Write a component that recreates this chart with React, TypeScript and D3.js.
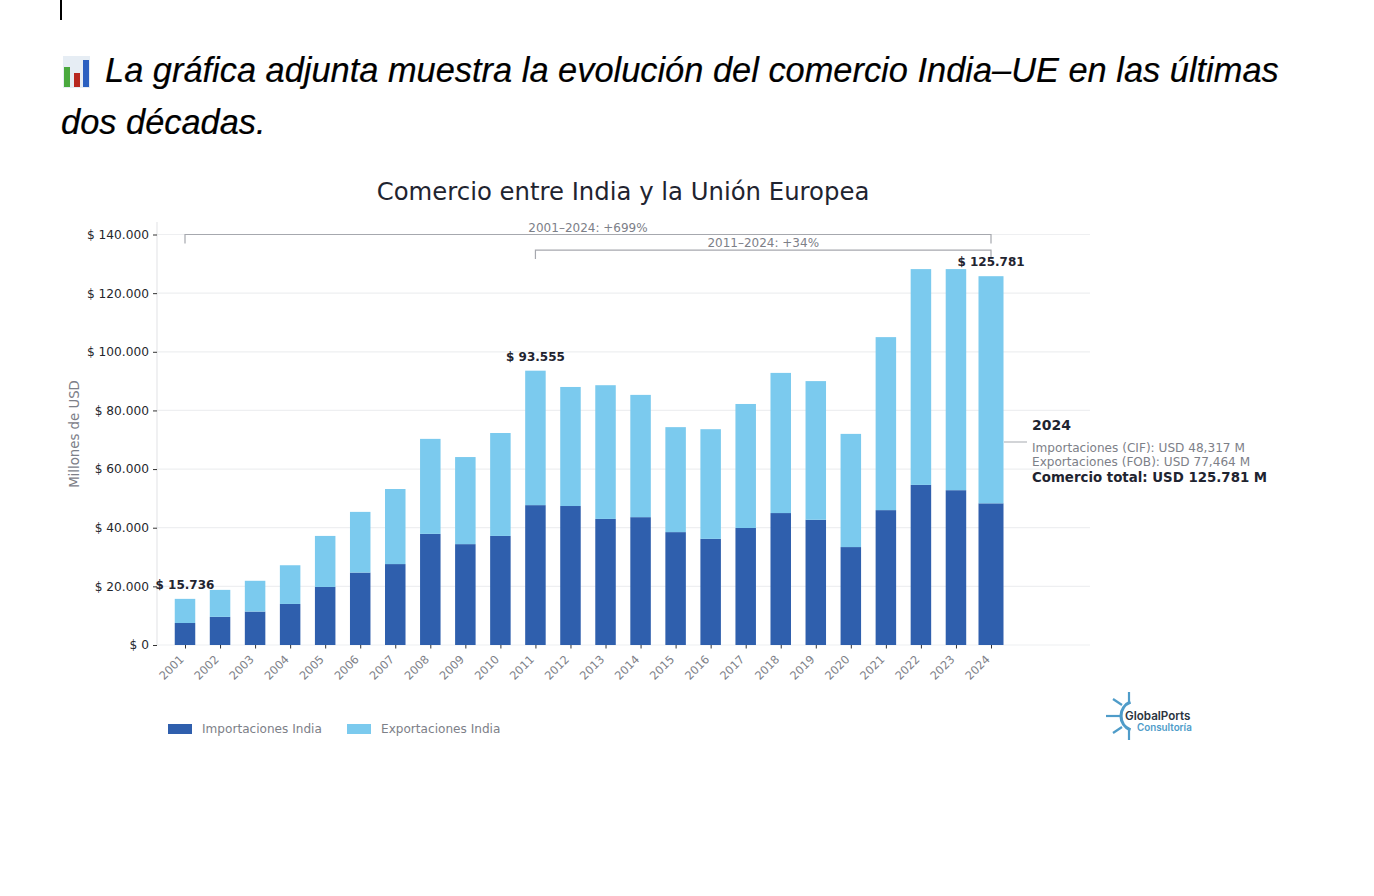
import React, { useEffect, useRef } from 'react';
import * as d3 from 'd3';

const years = ['2001', '2002', '2003', '2004', '2005', '2006', '2007', '2008', '2009', '2010', '2011', '2012', '2013', '2014', '2015', '2016', '2017', '2018', '2019', '2020', '2021', '2022', '2023', '2024'];
const imports = [7500, 9600, 11400, 14000, 19800, 24700, 27600, 37900, 34400, 37200, 47700, 47400, 43000, 43600, 38500, 36200, 39900, 45000, 42700, 33400, 46000, 54600, 52800, 48317];
const exportsIndia = [8236, 9200, 10500, 13200, 17400, 20700, 25600, 32400, 29700, 35100, 45855, 40600, 45600, 41700, 35800, 37400, 42300, 47800, 47300, 38600, 59000, 73600, 75400, 77464];
const yTicks = [0, 20000, 40000, 60000, 80000, 100000, 120000, 140000];
const tickLabels = ['$ 0', '$ 20.000', '$ 40.000', '$ 60.000', '$ 80.000', '$ 100.000', '$ 120.000', '$ 140.000'];
const callouts = [
  { year: '2001', total: 15736, label: '$ 15.736' },
  { year: '2011', total: 93555, label: '$ 93.555' },
  { year: '2024', total: 125781, label: '$ 125.781' },
];
const brackets = [
  { from: '2001', to: '2024', value: 140000, label: '2001–2024: +699%' },
  { from: '2011', to: '2024', value: 134700, label: '2011–2024: +34%' },
];
const legendItems = ['Importaciones India', 'Exportaciones India'];
const noteLines = ['Importaciones (CIF): USD 48,317 M', 'Exportaciones (FOB): USD 77,464 M'];

const DARK = '#2f5fad';
const LIGHT = '#7bcaee';
const INK = '#1f2430';
const GREY = '#7d8088';
const CHART_FONT = '"DejaVu Sans", sans-serif';

export default function App() {
  const svgRef = useRef<SVGSVGElement>(null);

  useEffect(() => {
    if (!svgRef.current) return;
    const svg = d3.select(svgRef.current);
    svg.selectAll('*').remove();

    // echelles
    const x = d3.scalePoint<string>().domain(years).range([185, 991]);
    const y = d3.scaleLinear().domain([0, 140000]).range([645, 234.5]);
    const barWidth = (year: string) => (year === '2024' ? 25 : 20.5);

    // en-tete
    svg.append('rect').attr('x', 60).attr('y', 0).attr('width', 2).attr('height', 20).attr('fill', '#000');
    const icon = svg.append('g');
    icon.append('rect').attr('x', 63).attr('y', 56).attr('width', 27).attr('height', 32).attr('fill', '#e6edf4');
    icon.append('rect').attr('x', 64).attr('y', 67).attr('width', 6).attr('height', 20).attr('fill', '#4aa93e');
    icon.append('rect').attr('x', 74).attr('y', 73).attr('width', 6).attr('height', 14).attr('fill', '#b8281f');
    icon.append('rect').attr('x', 83).attr('y', 60).attr('width', 6).attr('height', 27).attr('fill', '#2a5fc0');

    const heading = svg.append('g')
      .attr('font-family', '"Liberation Sans", sans-serif')
      .attr('font-style', 'italic')
      .attr('font-size', 34.4)
      .attr('fill', '#000')
      .attr('stroke', '#000')
      .attr('stroke-width', 0.2);
    heading.append('text').attr('x', 105).attr('y', 82)
      .text('La gráfica adjunta muestra la evolución del comercio India–UE en las últimas');
    heading.append('text').attr('x', 61).attr('y', 134).text('dos décadas.');

    svg.append('text').attr('x', 623).attr('y', 200).attr('text-anchor', 'middle')
      .attr('font-family', CHART_FONT).attr('font-size', 24.35).attr('fill', INK)
      .text('Comercio entre India y la Unión Europea');

    // grille
    const chart = svg.append('g').attr('font-family', CHART_FONT);
    chart.selectAll('line.grid').data(yTicks).join('line')
      .attr('class', 'grid')
      .attr('x1', 157).attr('x2', 1090)
      .attr('y1', d => y(d)).attr('y2', d => y(d))
      .attr('stroke', '#eeeff1').attr('stroke-width', 1.2);
    chart.append('line').attr('x1', 157).attr('x2', 157).attr('y1', 222).attr('y2', 645)
      .attr('stroke', '#e6e7ea').attr('stroke-width', 1.2);

    // barres empilees
    const rows = years.map((year, i) => ({ year, imp: imports[i], exp: exportsIndia[i] }));
    const series = d3.stack<{ year: string; imp: number; exp: number }>().keys(['imp', 'exp'])(rows);
    const colors = [DARK, LIGHT];
    series.forEach((layer, i) => {
      chart.append('g').selectAll('rect').data(layer).join('rect')
        .attr('x', d => x(d.data.year)! - barWidth(d.data.year) / 2)
        .attr('width', d => barWidth(d.data.year))
        .attr('y', d => y(d[1]))
        .attr('height', d => y(d[0]) - y(d[1]))
        .attr('fill', colors[i]);
    });

    // axes
    const axisY = chart.append('g').attr('transform', 'translate(157,0)')
      .call(d3.axisLeft(y).tickValues(yTicks).tickSize(4).tickPadding(4)
        .tickFormat((_, i) => tickLabels[i]));
    axisY.select('.domain').remove();
    axisY.selectAll('text').attr('font-family', CHART_FONT).attr('font-size', 12.2).attr('fill', '#24262c');
    axisY.selectAll('line').attr('stroke', '#333').attr('stroke-width', 1);

    const axisX = chart.append('g').attr('transform', 'translate(0,645)')
      .call(d3.axisBottom(x).tickSize(3.5).tickPadding(5));
    axisX.select('.domain').remove();
    axisX.selectAll('line').attr('stroke', '#333').attr('stroke-width', 1);
    axisX.selectAll('text')
      .attr('font-family', CHART_FONT).attr('font-size', 11.4).attr('fill', GREY)
      .attr('text-anchor', 'end')
      .attr('dy', 0)
      .attr('transform', 'translate(-7,9) rotate(-45)');

    chart.append('text')
      .attr('transform', 'translate(78.5,434) rotate(-90)')
      .attr('text-anchor', 'middle').attr('font-size', 13.3).attr('fill', GREY)
      .text('Millones de USD');

    // corchetes
    brackets.forEach(b => {
      const x0 = x(b.from)!;
      const x1 = x(b.to)!;
      const yb = y(b.value);
      const path = d3.path();
      path.moveTo(x0, yb + 9);
      path.lineTo(x0, yb);
      path.lineTo(x1, yb);
      path.lineTo(x1, yb + 9);
      chart.append('path').attr('d', path.toString()).attr('fill', 'none')
        .attr('stroke', '#a6a8ae').attr('stroke-width', 1.2);
      chart.append('text').attr('x', (x0 + x1) / 2).attr('y', yb - 3)
        .attr('text-anchor', 'middle').attr('font-size', 12).attr('fill', GREY).text(b.label);
    });

    // etiquetas de total
    chart.selectAll('text.total').data(callouts).join('text')
      .attr('class', 'total')
      .attr('x', d => x(d.year)!)
      .attr('y', d => y(d.total) - 10)
      .attr('text-anchor', 'middle')
      .attr('font-size', 12).attr('font-weight', 700).attr('fill', INK)
      .text(d => d.label);

    // nota 2024
    const noteX = 1032;
    chart.append('line').attr('x1', 1004).attr('x2', 1027).attr('y1', 442).attr('y2', 442)
      .attr('stroke', '#b5b7bc').attr('stroke-width', 1.2);
    chart.append('text').attr('x', noteX).attr('y', 430)
      .attr('font-size', 14).attr('font-weight', 700).attr('fill', INK).text('2024');
    chart.selectAll('text.note').data(noteLines).join('text')
      .attr('class', 'note')
      .attr('x', noteX).attr('y', (_, i) => 452 + i * 14)
      .attr('font-size', 12.1).attr('fill', GREY).text(d => d);
    chart.append('text').attr('x', noteX).attr('y', 482)
      .attr('font-size', 13.35).attr('font-weight', 700).attr('fill', INK)
      .text('Comercio total: USD 125.781 M');

    // leyenda
    const legendX = [168, 347];
    legendItems.forEach((item, i) => {
      chart.append('rect').attr('x', legendX[i]).attr('y', 724).attr('width', 24).attr('height', 10)
        .attr('fill', colors[i]);
      chart.append('text').attr('x', legendX[i] + 34).attr('y', 733)
        .attr('font-size', 12.1).attr('fill', GREY).text(item);
    });

    // logo
    const logo = svg.append('g');
    const wheel = d3.path();
    wheel.arc(1136, 716, 15, Math.PI * 0.62, Math.PI * 1.38);
    logo.append('path').attr('d', wheel.toString()).attr('fill', 'none')
      .attr('stroke', '#4f9cc9').attr('stroke-width', 3.2);
    const spokes = [[1129, 692, 1129, 704], [1113, 699, 1122, 705], [1106, 716, 1120, 716], [1113, 733, 1122, 727], [1129, 740, 1129, 728]];
    logo.selectAll('line').data(spokes).join('line')
      .attr('x1', d => d[0]).attr('y1', d => d[1]).attr('x2', d => d[2]).attr('y2', d => d[3])
      .attr('stroke', '#4f9cc9').attr('stroke-width', 2.2);
    logo.append('text').attr('x', 1125).attr('y', 720)
      .attr('font-family', 'Inter, sans-serif').attr('font-size', 11.6).attr('font-weight', 600)
      .attr('fill', '#2b3440').text('GlobalPorts');
    logo.append('text').attr('x', 1137).attr('y', 730.5)
      .attr('font-family', 'Inter, sans-serif').attr('font-size', 9.8).attr('font-weight', 600)
      .attr('fill', '#4f9cc9').text('Consultoría');
  }, []);

  return (
    <svg
      ref={svgRef}
      width={1374}
      height={896}
      style={{ position: 'absolute', left: 0, top: 0, background: '#fff' }}
    />
  );
}
